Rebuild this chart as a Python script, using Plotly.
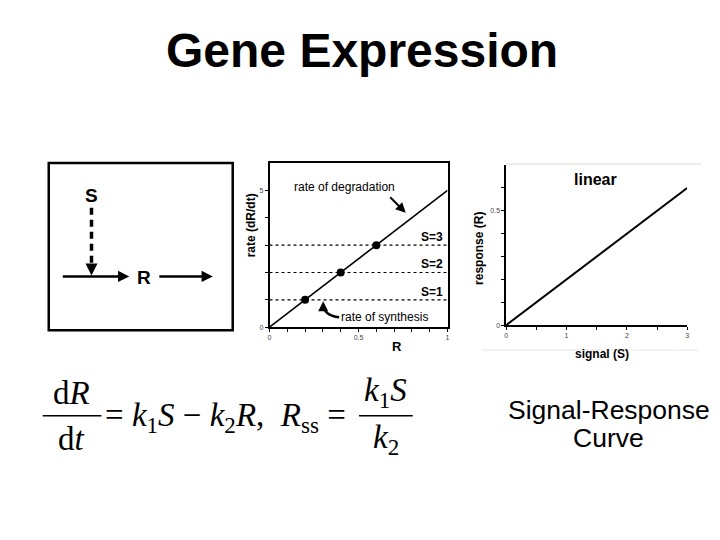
import plotly.graph_objects as go

W, H = 720, 540

# ---- data ----
deg_R = [0, 1]            # R values for degradation line
deg_rate = [0, 5]         # k2*R with k2 = 5
S_levels = [1, 2, 3]      # signal levels
synth_rate = [1, 2, 3]    # k1*S with k1 = 1
ss_R = [0.2, 0.4, 0.6]    # steady states
S_labels = ["S=1", "S=2", "S=3"]
signal = [0, 3]
response = [0, 0.6]

left_xticks = [0, 0.1, 0.2, 0.3, 0.4, 0.5, 0.6, 0.7, 0.8, 0.9, 1]
left_xtext = ["0", "", "", "", "", "0.5", "", "", "", "", "1"]
left_yticks = [0, 1, 2, 3, 4, 5]
left_ytext = ["0", "", "", "", "", "5"]
right_xticks = [0, 0.5, 1, 1.5, 2, 2.5, 3]
right_xtext = ["0", "", "1", "", "2", "", "3"]
right_yticks = [0, 0.1, 0.2, 0.3, 0.4, 0.5, 0.6]
right_ytext = ["0", "", "", "", "", "0.5", ""]


def px(x):
    return x / W


def py(y):
    return 1 - y / H


fig = go.Figure()

# left chart: rate balance
fig.add_trace(go.Scatter(x=deg_R, y=deg_rate, mode="lines",
                         line=dict(color="black", width=1.6),
                         xaxis="x", yaxis="y", showlegend=False, hoverinfo="skip"))
for s, r in zip(S_levels, synth_rate):
    fig.add_trace(go.Scatter(x=[0, 1], y=[r, r], mode="lines",
                             line=dict(color="black", width=1.2, dash="3px,3px"),
                             xaxis="x", yaxis="y", showlegend=False, hoverinfo="skip"))
fig.add_trace(go.Scatter(x=ss_R, y=synth_rate, mode="markers",
                         marker=dict(color="black", size=8),
                         xaxis="x", yaxis="y", showlegend=False, hoverinfo="skip"))
for r, lab in zip(synth_rate, S_labels):
    fig.add_annotation(x=0.915, y=r, xref="x", yref="y", text="<b>" + lab + "</b>",
                       showarrow=False, yanchor="middle", yshift=8,
                       font=dict(family="Liberation Sans", size=12, color="black"))

# right chart: signal-response
fig.add_trace(go.Scatter(x=signal, y=response, mode="lines",
                         line=dict(color="black", width=2),
                         xaxis="x2", yaxis="y2", showlegend=False, hoverinfo="skip"))

tickfont = dict(family="Liberation Sans", size=7, color="#444")
axcommon = dict(showline=True, linecolor="black", linewidth=1.5, ticks="outside",
                ticklen=3, tickcolor="black", showgrid=False, zeroline=False,
                tickfont=tickfont, fixedrange=True)

fig.update_layout(
    width=W, height=H, margin=dict(l=0, r=0, t=0, b=0),
    paper_bgcolor="white", plot_bgcolor="white",
    xaxis=dict(domain=[px(269), px(448)], range=[0, 1], anchor="y", mirror=True,
               tickmode="array", tickvals=left_xticks, ticktext=left_xtext, **axcommon),
    yaxis=dict(domain=[py(329), py(164)], range=[0, 6], anchor="x", mirror=True,
               tickmode="array", tickvals=left_yticks, ticktext=left_ytext, **axcommon),
    xaxis2=dict(domain=[px(507), px(689)], range=[0, 3], anchor="y2",
                tickmode="array", tickvals=right_xticks, ticktext=right_xtext, **axcommon),
    yaxis2=dict(domain=[py(327), py(166)], range=[0, 0.7], anchor="x2",
                tickmode="array", tickvals=right_yticks, ticktext=right_ytext, **axcommon),
)

shapes = []
# diagram box
shapes.append(dict(type="rect", xref="paper", yref="paper",
                   x0=px(47), x1=px(232), y0=py(332), y1=py(164),
                   line=dict(color="black", width=2.5)))
# dashed S -> arrow
shapes.append(dict(type="line", xref="paper", yref="paper",
                   x0=px(90), x1=px(90), y0=py(209), y1=py(271),
                   line=dict(color="black", width=3.5, dash="7px,5px")))
# light frame around right chart
shapes.append(dict(type="line", xref="paper", yref="paper",
                   x0=px(507), x1=px(703), y0=py(165), y1=py(165),
                   line=dict(color="#d8d8d8", width=1)))
shapes.append(dict(type="line", xref="paper", yref="paper",
                   x0=px(483), x1=px(700), y0=py(352), y1=py(352),
                   line=dict(color="#e4e4e4", width=1)))
# curved arrow for synthesis
shapes.append(dict(type="path", xref="paper", yref="paper",
                   path=f"M {px(339)},{py(319)} Q {px(324)},{py(317)} {px(323)},{py(307)}",
                   line=dict(color="black", width=2.5)))


def txt(x, y, text, size, bold=False, family="Liberation Sans", xanchor="center",
        yanchor="middle", angle=0, color="black"):
    t = f"<b>{text}</b>" if bold else text
    fig.add_annotation(x=px(x), y=py(y), xref="paper", yref="paper", text=t,
                       showarrow=False, xanchor=xanchor, yanchor=yanchor,
                       textangle=angle, font=dict(family=family, size=size, color=color))


def arrow(x0, y0, x1, y1, width=2.5, size=1.0):
    fig.add_annotation(x=px(x1), y=py(y1), xref="paper", yref="paper",
                       ax=x0 - x1, ay=y0 - y1, axref="pixel", ayref="pixel",
                       text="", showarrow=True, arrowhead=2, arrowsize=size,
                       arrowwidth=width, arrowcolor="black")


# title
txt(362, 51, "Gene Expression", 48, bold=True)

# diagram
txt(90, 197, "S", 19, bold=True)
txt(143, 279, "R", 19, bold=True)
arrow(90, 266, 90, 277, width=2, size=1.2)
arrow(60, 278, 128, 278, width=2.5, size=0.9)
arrow(157, 278, 212, 278, width=2.5, size=0.9)

# left chart texts
txt(250, 227, "rate (dR/dt)", 12, bold=True, angle=-90)
txt(397, 348, "R", 13, bold=True)
txt(344, 188, "rate of degradation", 12)
txt(385, 319, "rate of synthesis", 12)
arrow(389, 197, 406, 214, width=2, size=1.0)
arrow(323, 309, 323, 303, width=2, size=1.0)

# right chart texts
txt(479, 250, "response (R)", 12, bold=True, angle=-90)
txt(603, 356, "signal (S)", 12, bold=True)
txt(597, 181, "linear", 16, bold=True)

# Signal-Response Curve
txt(610, 412, "Signal-Response", 26.5)
txt(610, 440, "Curve", 26.5)

# equation
serif = "Liberation Serif"
txt(70, 395, "d<i>R</i>", 33, family=serif)
txt(70, 441, "d<i>t</i>", 33, family=serif)
shapes.append(dict(type="line", xref="paper", yref="paper",
                   x0=px(41), x1=px(100), y0=py(418), y1=py(418),
                   line=dict(color="black", width=1.5)))
txt(102, 420, "= <i>k</i><sub>1</sub><i>S</i> − <i>k</i><sub>2</sub><i>R</i>,  <i>R</i><sub>ss</sub> =",
    33, family=serif, xanchor="left")
txt(386, 395, "<i>k</i><sub>1</sub><i>S</i>", 33, family=serif)
txt(386, 442, "<i>k</i><sub>2</sub>", 33, family=serif)
shapes.append(dict(type="line", xref="paper", yref="paper",
                   x0=px(359), x1=px(413), y0=py(418), y1=py(418),
                   line=dict(color="black", width=1.5)))
fig.update_layout(shapes=shapes)

fig.write_html("out.html", config={"displayModeBar": False},
               post_script="document.body.style.margin='0px';")
